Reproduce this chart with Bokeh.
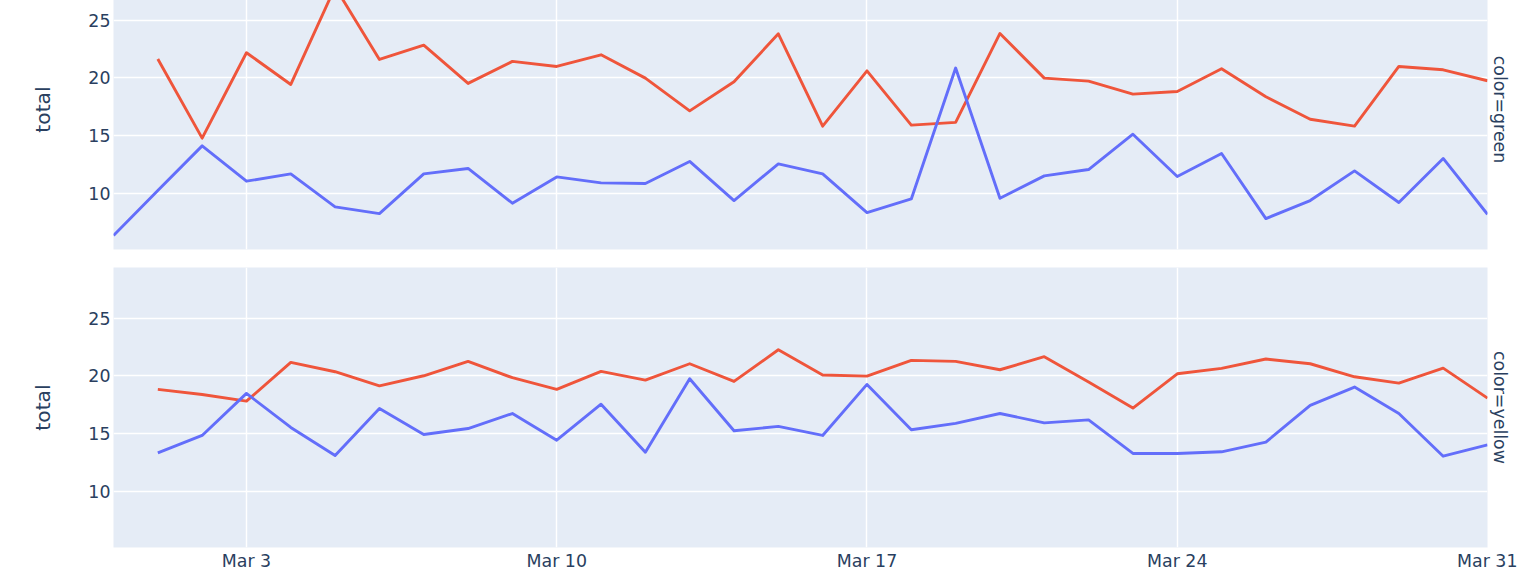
import pandas as pd
from bokeh.plotting import figure
from bokeh.layouts import column
from bokeh.models import FixedTicker, Range1d, Title
from bokeh.embed import file_html
from bokeh.resources import INLINE

# ---------------- data ----------------
dates = pd.date_range("2024-02-29", "2024-03-31", freq="D")
dates_mar = dates[1:]

green_blue = [6.33, 10.23, 14.10, 11.04, 11.67, 8.81, 8.23, 11.67, 12.14, 9.13,
              11.41, 10.89, 10.84, 12.75, 9.36, 12.54, 11.67, 8.32, 9.50, 20.84,
              9.56, 11.50, 12.05, 15.11, 11.44, 13.44, 7.80, 9.36, 11.93, 9.19,
              13.01, 8.17]
green_red = [21.62, 14.77, 22.17, 19.42, 27.86, 21.59, 22.83, 19.51, 21.42, 20.98,
             21.99, 19.97, 17.13, 19.65, 23.81, 15.81, 20.60, 15.90, 16.13, 23.84,
             19.97, 19.71, 18.58, 18.81, 20.78, 18.35, 16.41, 15.81, 20.98, 20.69,
             19.74]
yellow_blue = [13.32, 14.83, 18.47, 15.52, 13.09, 17.17, 14.91, 15.43, 16.73, 14.42,
               17.54, 13.38, 19.74, 15.23, 15.61, 14.83, 19.25, 15.32, 15.88, 16.73,
               15.92, 16.18, 13.27, 13.27, 13.41, 14.25, 17.43, 19.02, 16.73, 13.03,
               14.02]
yellow_red = [18.82, 18.38, 17.80, 21.16, 20.35, 19.13, 20.00, 21.24, 19.83, 18.82,
              20.38, 19.62, 21.04, 19.51, 22.25, 20.06, 19.97, 21.33, 21.25, 20.52,
              21.65, 19.45, 17.20, 20.17, 20.64, 21.45, 21.04, 19.91, 19.36, 20.66,
              18.06]

facet_labels = ["color=green", "color=yellow"]
y_title = "total"
x_tick_dates = ["2024-03-03", "2024-03-10", "2024-03-17", "2024-03-24", "2024-03-31"]
x_tick_labels = ["Mar 3", "Mar 10", "Mar 17", "Mar 24", "Mar 31"]
y_ticks = [5, 10, 15, 20, 25]
y_min, y_max = 5.12, 29.38

# ---------------- style ----------------
FONT = "DejaVu Sans"
TXT = "#2a3f5f"
BG = "#E5ECF6"
BLUE = "#636EFA"
RED = "#EF553B"
LW = 2.9

x_tick_ms = [pd.Timestamp(d).value / 1e6 for d in x_tick_dates]
x_range = Range1d(dates[0], dates[-1])


def make_fig(show_x, top_border, bottom_border, facet_text):
    p = figure(x_axis_type="datetime", x_range=x_range,
               y_range=Range1d(y_min, y_max),
               frame_width=1374, frame_height=280,
               min_border_left=113, min_border_right=30,
               min_border_top=top_border, min_border_bottom=bottom_border,
               output_backend="svg", toolbar_location=None,
               background_fill_color=BG, border_fill_color="white",
               outline_line_color=None)
    # y axis
    ya = p.yaxis[0]
    ya.ticker = FixedTicker(ticks=y_ticks)
    ya.axis_line_color = None
    ya.major_tick_line_color = None
    ya.minor_tick_line_color = None
    ya.major_tick_out = 0
    ya.major_tick_in = 0
    ya.major_label_standoff = 3
    ya.major_label_text_font = FONT
    ya.major_label_text_font_size = "17.4px"
    ya.major_label_text_color = TXT
    ya.axis_label = y_title
    ya.axis_label_text_font = FONT
    ya.axis_label_text_font_size = "20.3px"
    ya.axis_label_text_font_style = "normal"
    ya.axis_label_text_color = TXT
    ya.axis_label_standoff = 30
    # x axis
    xa = p.xaxis[0]
    xa.ticker = FixedTicker(ticks=x_tick_ms)
    xa.major_label_overrides = {t: l for t, l in zip(x_tick_ms, x_tick_labels)}
    xa.axis_line_color = None
    xa.major_tick_line_color = None
    xa.minor_tick_line_color = None
    xa.major_tick_out = 0
    xa.major_tick_in = 0
    xa.major_label_standoff = 3
    xa.major_label_text_font = FONT
    xa.major_label_text_font_size = "17.4px"
    xa.major_label_text_color = TXT
    xa.visible = show_x
    # grids
    p.xgrid.ticker = FixedTicker(ticks=x_tick_ms)
    p.ygrid.ticker = FixedTicker(ticks=y_ticks)
    for g in (p.xgrid[0], p.ygrid[0]):
        g.grid_line_color = "white"
        g.grid_line_width = 1.45
    # facet label on the right
    p.add_layout(Title(text=facet_text, align="center", standoff=4,
                       text_font=FONT, text_font_size="17.4px",
                       text_font_style="normal", text_color=TXT), "right")
    return p


p1 = make_fig(False, 0, 9, facet_labels[0])
p2 = make_fig(True, 9, 0, facet_labels[1])

p1.line(dates_mar, green_red, line_color=RED, line_width=LW, line_join="round")
p1.line(dates, green_blue, line_color=BLUE, line_width=LW, line_join="round")
p2.line(dates_mar, yellow_red, line_color=RED, line_width=LW, line_join="round")
p2.line(dates_mar, yellow_blue, line_color=BLUE, line_width=LW, line_join="round")

layout = column(p1, p2, spacing=0, margin=(-31, 0, -14, 0))

open("out.html", "w").write(file_html(layout, INLINE))
